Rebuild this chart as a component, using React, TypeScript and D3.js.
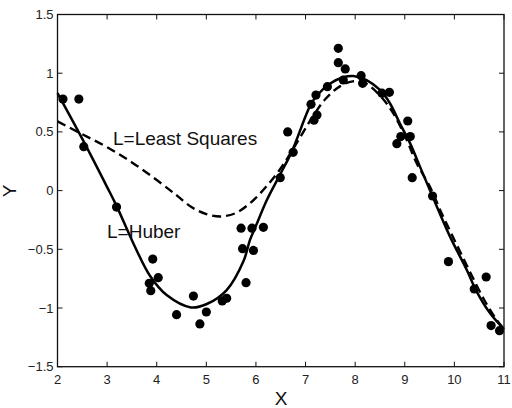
import React from "react";
import * as d3 from "d3";

const pointX = [2.11, 2.43, 2.53, 3.19, 3.92, 4.03, 3.85, 3.88, 4.40, 4.74, 4.87, 5.00, 5.32, 5.41, 5.73, 5.95, 5.80, 5.70, 5.92, 6.15, 6.49, 6.64, 6.75, 7.11, 7.21, 7.23, 7.17, 7.44, 7.66, 7.66, 7.80, 7.76, 8.12, 8.15, 8.54, 8.69, 9.06, 8.92, 9.11, 8.84, 9.15, 9.56, 9.88, 10.40, 10.64, 10.74, 10.91];
const pointY = [0.78, 0.78, 0.374, -0.14, -0.583, -0.742, -0.79, -0.853, -1.057, -0.898, -1.136, -1.034, -0.94, -0.917, -0.495, -0.51, -0.784, -0.32, -0.32, -0.313, 0.11, 0.50, 0.326, 0.735, 0.814, 0.644, 0.60, 0.885, 1.212, 1.09, 1.036, 0.942, 0.979, 0.914, 0.83, 0.837, 0.593, 0.46, 0.46, 0.40, 0.11, -0.046, -0.605, -0.838, -0.736, -1.15, -1.193];

const huberX = [2.0, 2.5, 3.0, 3.19, 3.53, 3.87, 4.2, 4.69, 5.01, 5.41, 5.75, 5.88, 6.0, 6.22, 6.49, 6.72, 7.1, 7.23, 7.49, 7.76, 7.96, 8.23, 8.5, 8.7, 8.9, 9.11, 9.31, 9.54, 9.91, 10.25, 10.45, 10.72, 11.0];
const huberY = [0.83, 0.44, 0.03, -0.13, -0.45, -0.73, -0.89, -0.995, -0.966, -0.847, -0.6, -0.42, -0.3, -0.08, 0.14, 0.33, 0.73, 0.81, 0.91, 0.965, 0.976, 0.942, 0.857, 0.744, 0.573, 0.4, 0.2, -0.03, -0.39, -0.676, -0.86, -1.045, -1.18];

const lsX = [2.0, 2.5, 3.0, 3.5, 4.0, 4.4, 4.7, 5.0, 5.3, 5.6, 5.9, 6.2, 6.5, 6.8, 7.1, 7.4, 7.7, 7.95, 8.2, 8.5, 8.77, 9.04, 9.24, 9.51, 9.75, 10.0, 10.3, 10.6, 10.85, 11.0];
const lsY = [0.59, 0.48, 0.37, 0.24, 0.09, -0.04, -0.14, -0.2, -0.22, -0.19, -0.1, 0.03, 0.19, 0.39, 0.6, 0.78, 0.89, 0.93, 0.915, 0.81, 0.658, 0.43, 0.233, 0.03, -0.2, -0.42, -0.68, -0.93, -1.1, -1.18];

const xTicks = [2, 3, 4, 5, 6, 7, 8, 9, 10, 11];
const yTicks = [-1.5, -1, -0.5, 0, 0.5, 1, 1.5];
const labels = ["L=Least Squares", "L=Huber"];

export default function App() {
  const W = 512, H = 408;
  const x = d3.scaleLinear().domain([2, 11]).range([57.5, 504]);
  const y = d3.scaleLinear().domain([-1.5, 1.5]).range([366.7, 14.5]);
  const line = d3.line<number>().curve(d3.curveCatmullRom.alpha(0.5));
  const huberPath = line(huberX.map((v, i) => [x(v), y(huberY[i])] as any) as any);
  const lsPath = line(lsX.map((v, i) => [x(v), y(lsY[i])] as any) as any);
  const fmt = (v: number) => (v < 0 ? "\u2212" : "") + String(Math.abs(v));
  const font = "Liberation Sans, Arial, sans-serif";
  const tl = 5;
  const [x0, x1] = x.range();
  const [y0, y1] = y.range();
  return (
    <svg width={W} height={H} style={{ position: "absolute", left: 0, top: 0, background: "#fff" }} fontFamily={font}>
      <path d={lsPath || ""} fill="none" stroke="#000" strokeWidth={2.4} strokeDasharray="9,5" />
      <path d={huberPath || ""} fill="none" stroke="#000" strokeWidth={2.5} />
      {pointX.map((v, i) => (
        <circle key={i} cx={x(v)} cy={y(pointY[i])} r={4.6} fill="#000" />
      ))}
      <rect x={x0} y={y1} width={x1 - x0} height={y0 - y1} fill="none" stroke="#111" strokeWidth={1.3} />
      {xTicks.map((t) => (
        <g key={"x" + t}>
          <line x1={x(t)} x2={x(t)} y1={y0} y2={y0 - tl} stroke="#111" strokeWidth={1} />
          <line x1={x(t)} x2={x(t)} y1={y1} y2={y1 + tl} stroke="#111" strokeWidth={1} />
          <text x={x(t)} y={384} fontSize={13} textAnchor="middle" fill="#222">{fmt(t)}</text>
        </g>
      ))}
      {yTicks.map((t) => (
        <g key={"y" + t}>
          <line x1={x0} x2={x0 + tl} y1={y(t)} y2={y(t)} stroke="#111" strokeWidth={1} />
          <line x1={x1} x2={x1 - tl} y1={y(t)} y2={y(t)} stroke="#111" strokeWidth={1} />
          <text x={53.5} y={y(t) + 4.5} fontSize={13} textAnchor="end" fill="#222">{fmt(t)}</text>
        </g>
      ))}
      <text x={281} y={405} fontSize={19} textAnchor="middle" fill="#111">X</text>
      <text transform="translate(15.5,191) rotate(-90)" fontSize={19} textAnchor="middle" fill="#111">Y</text>
      <text x={113} y={144.5} fontSize={19} fill="#111">{labels[0]}</text>
      <text x={107} y={237.5} fontSize={19} fill="#111">{labels[1]}</text>
    </svg>
  );
}
